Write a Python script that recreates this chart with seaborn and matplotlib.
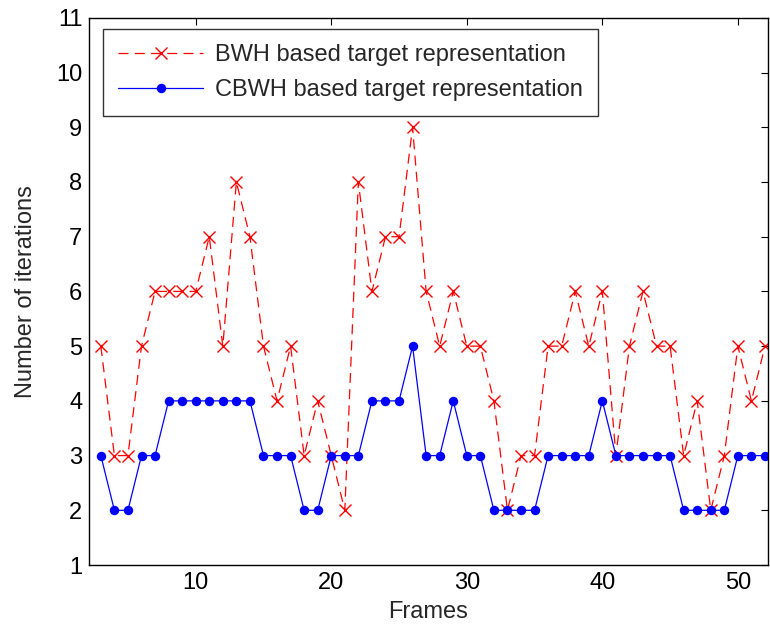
import pandas as pd
import matplotlib
matplotlib.use("Agg")
import matplotlib.pyplot as plt
import seaborn as sns

# Iterations per frame
frames = list(range(3, 53))
bwh = [5, 3, 3, 5, 6, 6, 6, 6, 7, 5, 8, 7, 5, 4, 5, 3, 4, 3, 2, 8,
       6, 7, 7, 9, 6, 5, 6, 5, 5, 4, 2, 3, 3, 5, 5, 6, 5, 6, 3, 5,
       6, 5, 5, 3, 4, 2, 3, 5, 4, 5]
cbwh = [3, 2, 2, 3, 3, 4, 4, 4, 4, 4, 4, 4, 3, 3, 3, 2, 2, 3, 3, 3,
        4, 4, 4, 5, 3, 3, 4, 3, 3, 2, 2, 2, 2, 3, 3, 3, 3, 4, 3, 3,
        3, 3, 3, 2, 2, 2, 2, 3, 3, 3]
y_ticks = list(range(1, 12))
x_ticks = [10, 20, 30, 40, 50]

df = pd.DataFrame({"frame": frames, "bwh": bwh, "cbwh": cbwh})

sns.set_style("white")
plt.rcParams['font.family'] = ['Liberation Sans', 'DejaVu Sans']
fs = 17

fig = plt.figure(figsize=(7.7, 6.37), dpi=100)
ax = fig.add_axes([0.116, 0.113, 0.881, 0.859])

sns.lineplot(data=df, x="frame", y="bwh", ax=ax, color="red",
             linestyle=(0, (8, 5)), linewidth=0.9, marker="x", markersize=8,
             markeredgewidth=1.0, markeredgecolor="red",
             label="BWH based target representation")
sns.lineplot(data=df, x="frame", y="cbwh", ax=ax, color="blue", linestyle="-",
             linewidth=0.9, marker="o", markersize=6.8, markeredgewidth=0,
             label="CBWH based target representation")

ax.set_xlim(2.15, 52.2)
ax.set_ylim(1, 11)
ax.set_xticks(x_ticks)
ax.set_yticks(y_ticks)
ax.tick_params(direction="in", length=5, width=0.8, top=True, right=True,
               labelsize=fs, colors="black", pad=5)
for s in ax.spines.values():
    s.set_color("black")
    s.set_linewidth(1.0)

ax.set_xlabel("Frames", fontsize=fs, labelpad=5)
ax.set_ylabel("Number of iterations", fontsize=fs, labelpad=14)

leg = ax.legend(loc="upper left", bbox_to_anchor=(0.02, 0.98), fontsize=fs,
                handlelength=3.6, handletextpad=0.5, frameon=True,
                fancybox=False, edgecolor="black", borderpad=0.65,
                labelspacing=0.55, borderaxespad=0)
leg.get_frame().set_linewidth(1.0)

fig.savefig("out.png", dpi=100)
